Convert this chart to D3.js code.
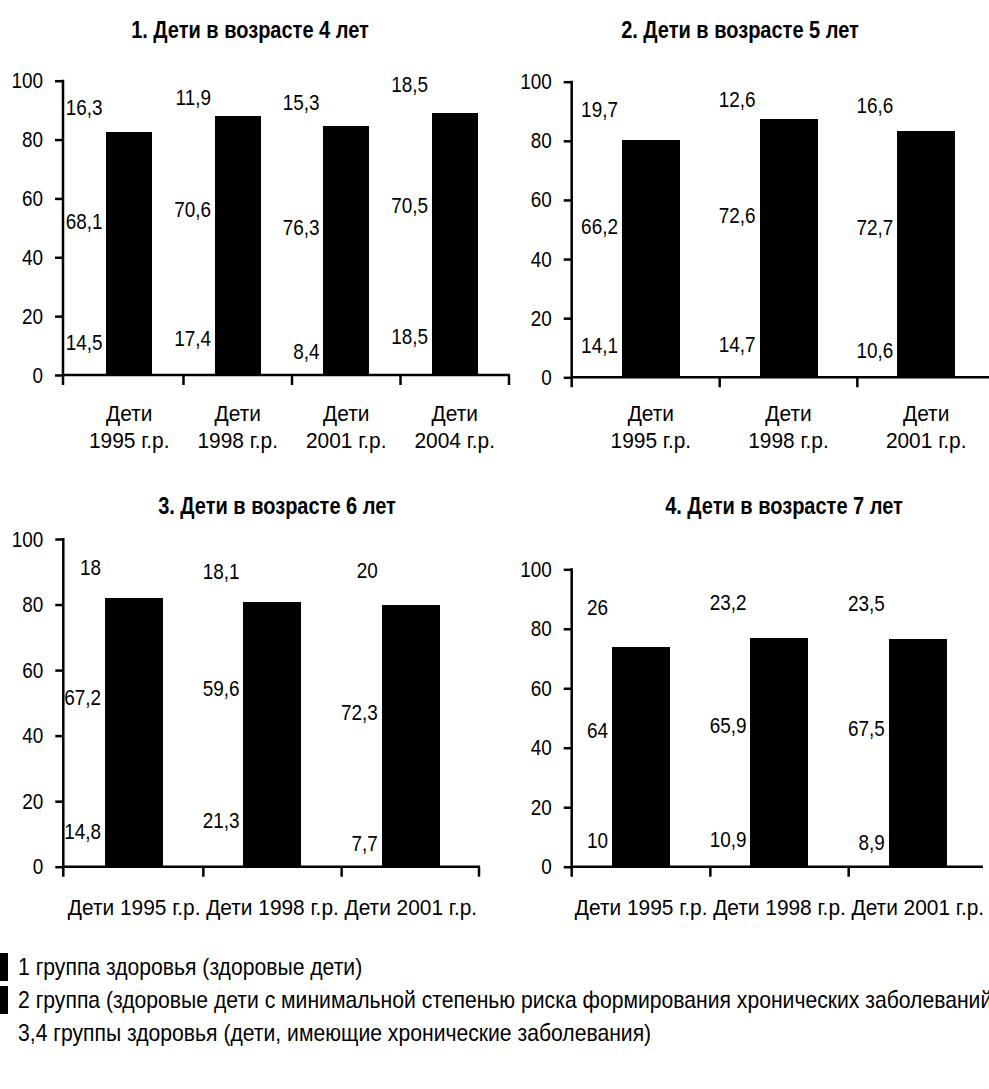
<!DOCTYPE html>
<html>
<head>
<meta charset="utf-8">
<script src="https://cdn.jsdelivr.net/npm/d3@7"></script>
<style>
  html, body { margin: 0; padding: 0; background: #fff; overflow: hidden; }
  svg { display: block; }
  text { font-family: "Liberation Sans", Arial, sans-serif; fill: #000; }
</style>
</head>
<body>
<svg id="chart" width="989" height="1089"></svg>
<script>
// Health groups of children, % by birth cohort, at ages 4–7
const groupNames = [
  "1 группа здоровья (здоровые дети)",
  "2 группа (здоровые дети с минимальной степенью риска формирования хронических заболеваний)",
  "3,4 группы здоровья (дети, имеющие хронические заболевания)"
];
const groupColors = ["#000000", "#000000", "#ffffff"];
const groupKeys = ["g1", "g2", "g34"];

const cohorts = ["Дети 1995 г.р.", "Дети 1998 г.р.", "Дети 2001 г.р.", "Дети 2004 г.р."];
const yTicks = [0, 20, 40, 60, 80, 100];

const titles = [
  "1. Дети в возрасте 4 лет",
  "2. Дети в возрасте 5 лет",
  "3. Дети в возрасте 6 лет",
  "4. Дети в возрасте 7 лет"
];

// age 4
const age4Group1 = [14.5, 17.4, 8.4, 18.5];
const age4Group2 = [68.1, 70.6, 76.3, 70.5];
const age4Group34 = [16.3, 11.9, 15.3, 18.5];
// age 5
const age5Group1 = [14.1, 14.7, 10.6];
const age5Group2 = [66.2, 72.6, 72.7];
const age5Group34 = [19.7, 12.6, 16.6];
// age 6
const age6Group1 = [14.8, 21.3, 7.7];
const age6Group2 = [67.2, 59.6, 72.3];
const age6Group34 = [18, 18.1, 20];
// age 7
const age7Group1 = [10, 10.9, 8.9];
const age7Group2 = [64, 65.9, 67.5];
const age7Group34 = [26, 23.2, 23.5];

const panelSeries = [
  [age4Group1, age4Group2, age4Group34],
  [age5Group1, age5Group2, age5Group34],
  [age6Group1, age6Group2, age6Group34],
  [age7Group1, age7Group2, age7Group34]
];

// plot-area geometry of each small chart
const layout = [
  { axisX: 63,    bandL: 75,  bandR: 509, top: 80.7,  bottom: 375,   axisEnd: 510, titleX: 250, titleY: 38,  twoLine: true,  catY: 413 },
  { axisX: 571.7, bandL: 582, bandR: 995, top: 81.7,  bottom: 377.3, axisEnd: 989, titleX: 740, titleY: 38,  twoLine: true,  catY: 413 },
  { axisX: 63.3,  bandL: 65,  bandR: 480, top: 539,   bottom: 866.7, axisEnd: 480, titleX: 277, titleY: 514, twoLine: false, catY: 907 },
  { axisX: 571.7, bandL: 572, bandR: 987, top: 569.3, bottom: 866.7, axisEnd: 983, titleX: 784, titleY: 514, twoLine: false, catY: 907 }
];

const FS = 22;
const NARROW = 0.86;          // condensed look for numbers
const labelLift = [10, 10, 0]; // px, value labels sit a little above segment middles
const svg = d3.select("#chart");
const fmt = v => String(v).replace(".", ",");

// place a text at (x, y), squeezed horizontally by s
function place(sel, x, y, s) {
  return sel.attr("x", 0).attr("y", 0)
    .attr("transform", `translate(${x},${y}) scale(${s},1)`);
}

panelSeries.forEach((series, pi) => {
  const L = layout[pi];
  const n = series[0].length;
  const cats = cohorts.slice(0, n);
  const g = svg.append("g");

  const x = d3.scaleBand().domain(cats).range([L.bandL, L.bandR])
    .paddingInner(0.58).paddingOuter(0.29);
  const y = d3.scaleLinear().domain([0, 100]).range([L.bottom, L.top]);

  // title
  place(g.append("text"), L.titleX, L.titleY, 0.87)
    .attr("text-anchor", "middle")
    .attr("font-weight", "bold")
    .attr("font-size", 23)
    .text(titles[pi]);

  // stacked data
  const rows = cats.map((c, i) => ({ cat: c, g1: series[0][i], g2: series[1][i], g34: series[2][i] }));
  const stack = d3.stack().keys(groupKeys)(rows);

  // bars, upper layers first so the black segments sit on top
  stack.slice().reverse().forEach(layer => {
    const li = layer.index;
    g.append("g").selectAll("rect").data(layer).join("rect")
      .attr("shape-rendering", "crispEdges")
      .attr("x", d => Math.round(x(d.data.cat)))
      .attr("width", Math.round(x.bandwidth()))
      .attr("y", d => Math.round(y(d[1])))
      .attr("height", d => Math.round(y(d[0])) - Math.round(y(d[1])))
      .attr("fill", groupColors[li]);
  });

  // value labels, left of each bar
  stack.forEach(layer => {
    const key = groupKeys[layer.index];
    const lift = labelLift[layer.index];
    g.append("g").selectAll("text").data(layer).join("text")
      .each(function (d) {
        place(d3.select(this), x(d.data.cat) - 4, y((d[0] + d[1]) / 2) - lift, NARROW);
      })
      .attr("dy", "0.3em")
      .attr("text-anchor", "end")
      .attr("font-size", FS)
      .text(d => fmt(d.data[key]));
  });

  // y axis
  const yAxis = g.append("g").attr("transform", `translate(${L.axisX},0)`)
    .call(d3.axisLeft(y).tickValues(yTicks).tickSize(8).tickPadding(12).tickFormat(d3.format("d")));
  yAxis.select(".domain").remove();
  yAxis.selectAll("line").attr("stroke", "#000").attr("stroke-width", 2.5);
  yAxis.selectAll("text")
    .attr("font-size", FS).attr("font-family", null)
    .each(function () {
      const t = d3.select(this);
      const tx = +t.attr("x");
      t.attr("x", 0).attr("transform", `translate(${tx},0) scale(${NARROW},1)`);
    });
  g.append("line")
    .attr("x1", L.axisX).attr("x2", L.axisX)
    .attr("y1", y(100) - 1).attr("y2", y(0) + 10)
    .attr("stroke", "#000").attr("stroke-width", 2.5);

  // x axis with ticks between categories
  g.append("line")
    .attr("x1", L.axisX).attr("x2", L.axisEnd)
    .attr("y1", y(0)).attr("y2", y(0))
    .attr("stroke", "#000").attr("stroke-width", 2.5);
  const step = x.step();
  const bounds = cats.map(c => x(c) + x.bandwidth() / 2 + step / 2).filter(b => b <= L.axisEnd + 1);
  g.append("g").selectAll("line").data(bounds).join("line")
    .attr("x1", b => Math.min(b, L.axisEnd - 1)).attr("x2", b => Math.min(b, L.axisEnd - 1))
    .attr("y1", y(0)).attr("y2", y(0) + 10)
    .attr("stroke", "#000").attr("stroke-width", 2.5);

  // category labels
  g.append("g").selectAll("text").data(cats).join("text")
    .each(function (c) {
      const t = place(d3.select(this), x(c) + x.bandwidth() / 2, L.catY, 0.95)
        .attr("text-anchor", "middle")
        .attr("font-size", FS);
      if (L.twoLine) {
        const parts = c.split(" ");
        t.append("tspan").attr("x", 0).attr("dy", "0.35em").text(parts[0]);
        t.append("tspan").attr("x", 0).attr("dy", 27).text(parts.slice(1).join(" "));
      } else {
        t.attr("dy", "0.35em").text(c);
      }
    });
});

// legend
const legend = svg.append("g");
const legendY = [967, 1000, 1033];
groupNames.forEach((name, i) => {
  legend.append("rect")
    .attr("x", -14).attr("y", legendY[i] - 14)
    .attr("width", 22).attr("height", 28)
    .attr("fill", groupColors[i]);
  place(legend.append("text"), 18, legendY[i], 0.92)
    .attr("dy", "0.35em")
    .attr("font-size", 23)
    .text(name);
});
</script>
</body>
</html>
